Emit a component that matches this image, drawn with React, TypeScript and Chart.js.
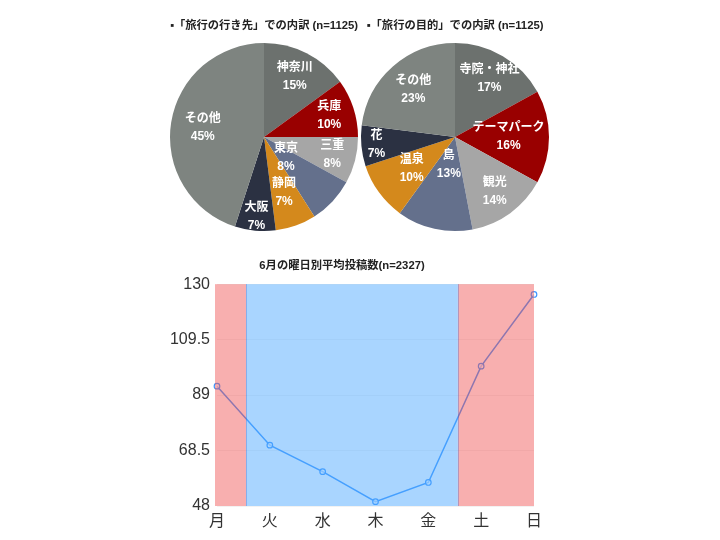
import React, { useEffect, useRef } from 'react';
import { Chart, registerables } from 'chart.js';

Chart.register(...registerables);

// ---- Data ----
const destLabels = ['神奈川', '兵庫', '三重', '東京', '静岡', '大阪', 'その他'];
const destValues = [15, 10, 8, 8, 7, 7, 45];
const purposeLabels = ['寺院・神社', 'テーマパーク', '観光', '島', '温泉', '花', 'その他'];
const purposeValues = [17, 16, 14, 13, 10, 7, 23];
const destTitle = '▪「旅行の行き先」での内訳 (n=1125)';
const purposeTitle = '▪「旅行の目的」での内訳 (n=1125)';

const days = ['月', '火', '水', '木', '金', '土', '日'];
const posts = [92.3, 70.5, 60.7, 49.6, 56.7, 99.7, 126.2];
const yTicks = [48, 68.5, 89, 109.5, 130];
const lineTitle = '6月の曜日別平均投稿数(n=2327)';
const bandEdges = [0, 0.55, 4.56, 6];

// ---- Styles ----
const FONT = "'Liberation Sans', 'Noto Sans CJK JP', sans-serif";
const sliceColors = ['#6c716e', '#990000', '#a6a6a6', '#64708c', '#d4891c', '#2b3142', '#7e8480'];
const destLabelRadii = [0.72, 0.73, 0.75, 0.32, 0.63, 0.85, 0.66];
const purposeLabelRadii = [0.72, 0.57, 0.72, 0.3, 0.57, 0.84, 0.67];
const bandColors = ['rgba(240,80,80,0.46)', 'rgba(80,170,255,0.49)', 'rgba(240,80,80,0.46)'];

Chart.defaults.font.family = FONT;

function makeSliceLabelPlugin(radii: number[]) {
  return {
    id: 'sliceLabels',
    afterDatasetsDraw(chart: any) {
      const { ctx } = chart;
      const meta = chart.getDatasetMeta(0);
      const labels = chart.data.labels as string[];
      const data = chart.data.datasets[0].data as number[];
      meta.data.forEach((arc: any, i: number) => {
        const p = arc.getProps(['x', 'y', 'startAngle', 'endAngle', 'outerRadius'], true);
        const mid = (p.startAngle + p.endAngle) / 2;
        const r = p.outerRadius * radii[i];
        const cx = p.x + Math.cos(mid) * r;
        const cy = p.y + Math.sin(mid) * r;
        ctx.save();
        ctx.fillStyle = '#ffffff';
        ctx.font = `bold 12px ${FONT}`;
        ctx.textAlign = 'center';
        ctx.textBaseline = 'middle';
        ctx.fillText(labels[i], cx, cy - 9);
        ctx.fillText(`${data[i]}%`, cx, cy + 9);
        ctx.restore();
      });
    },
  };
}

function PieChart(props: { labels: string[]; values: number[]; title: string; radii: number[] }) {
  const ref = useRef<HTMLCanvasElement>(null);
  useEffect(() => {
    if (!ref.current) return;
    const chart = new Chart(ref.current, {
      type: 'pie',
      data: {
        labels: props.labels,
        datasets: [{ data: props.values, backgroundColor: sliceColors, borderWidth: 0 }],
      },
      options: {
        animation: false,
        responsive: true,
        maintainAspectRatio: false,
        radius: 94,
        layout: { padding: 0 },
        events: [],
        plugins: {
          legend: { display: false },
          tooltip: { enabled: false },
          title: {
            display: true,
            text: props.title,
            color: '#222',
            font: { size: 11.3, weight: 'bold', family: FONT, lineHeight: 1.2 },
            padding: { top: 9, bottom: 1.6 },
          },
        },
      } as any,
      plugins: [makeSliceLabelPlugin(props.radii)],
    });
    return () => chart.destroy();
  }, []);
  return <canvas ref={ref} />;
}

const bandPlugin = {
  id: 'bands',
  afterDatasetsDraw(chart: any) {
    const { ctx, chartArea, scales } = chart;
    const xs = scales.x;
    ctx.save();
    for (let i = 0; i < bandColors.length; i++) {
      let x0 = xs.getPixelForValue(bandEdges[i]);
      let x1 = xs.getPixelForValue(bandEdges[i + 1]);
      if (i === 0) x0 -= 2;
      ctx.fillStyle = bandColors[i];
      ctx.fillRect(x0, chartArea.top, x1 - x0, chartArea.bottom - chartArea.top);
    }
    ctx.strokeStyle = 'rgba(60,100,200,0.35)';
    ctx.lineWidth = 1;
    [1, 2].forEach((k) => {
      const x = Math.round(xs.getPixelForValue(bandEdges[k])) + 0.5;
      ctx.beginPath();
      ctx.moveTo(x, chartArea.top);
      ctx.lineTo(x, chartArea.bottom);
      ctx.stroke();
    });
    ctx.restore();
  },
};

function LineChart() {
  const ref = useRef<HTMLCanvasElement>(null);
  useEffect(() => {
    if (!ref.current) return;
    const chart = new Chart(ref.current, {
      type: 'line',
      data: {
        labels: days,
        datasets: [
          {
            data: posts,
            borderColor: 'rgb(60,150,255)',
            borderWidth: 1.5,
            pointRadius: 2.8,
            pointBorderWidth: 1.2,
            pointBorderColor: 'rgb(60,150,255)',
            pointBackgroundColor: 'rgba(255,255,255,0.6)',
            tension: 0,
            clip: false,
          },
        ],
      },
      options: {
        animation: false,
        responsive: true,
        maintainAspectRatio: false,
        events: [],
        layout: { padding: { left: 0, right: 16, top: 0, bottom: 0 } },
        plugins: {
          legend: { display: false },
          tooltip: { enabled: false },
          title: {
            display: true,
            text: lineTitle,
            color: '#222',
            font: { size: 11.3, weight: 'bold', family: FONT, lineHeight: 1.2 },
            padding: { top: 4, bottom: 11.6 },
          },
        },
        scales: {
          x: {
            offset: false,
            grid: { display: false, drawTicks: false },
            border: { display: false },
            ticks: { color: '#333', font: { size: 16, family: FONT }, padding: 6, maxRotation: 0 },
            afterFit: (s: any) => {
              s.height = 34;
            },
          },
          y: {
            min: 48,
            max: 130,
            afterBuildTicks: (s: any) => {
              s.ticks = yTicks.map((v) => ({ value: v }));
            },
            grid: { color: 'rgba(0,0,0,0.05)', drawTicks: false },
            border: { display: false },
            ticks: { color: '#333', font: { size: 16, family: FONT }, padding: 7 },
            afterFit: (s: any) => {
              s.width = 67;
            },
          },
        },
      } as any,
      plugins: [bandPlugin],
    });
    return () => chart.destroy();
  }, []);
  return <canvas ref={ref} />;
}

export default function App() {
  return (
    <div>
      <div style={{ position: 'absolute', left: 164, top: 10, width: 200, height: 230 }}>
        <PieChart labels={destLabels} values={destValues} title={destTitle} radii={destLabelRadii} />
      </div>
      <div style={{ position: 'absolute', left: 355, top: 10, width: 200, height: 230 }}>
        <PieChart labels={purposeLabels} values={purposeValues} title={purposeTitle} radii={purposeLabelRadii} />
      </div>
      <div style={{ position: 'absolute', left: 150, top: 255, width: 400, height: 285 }}>
        <LineChart />
      </div>
    </div>
  );
}
